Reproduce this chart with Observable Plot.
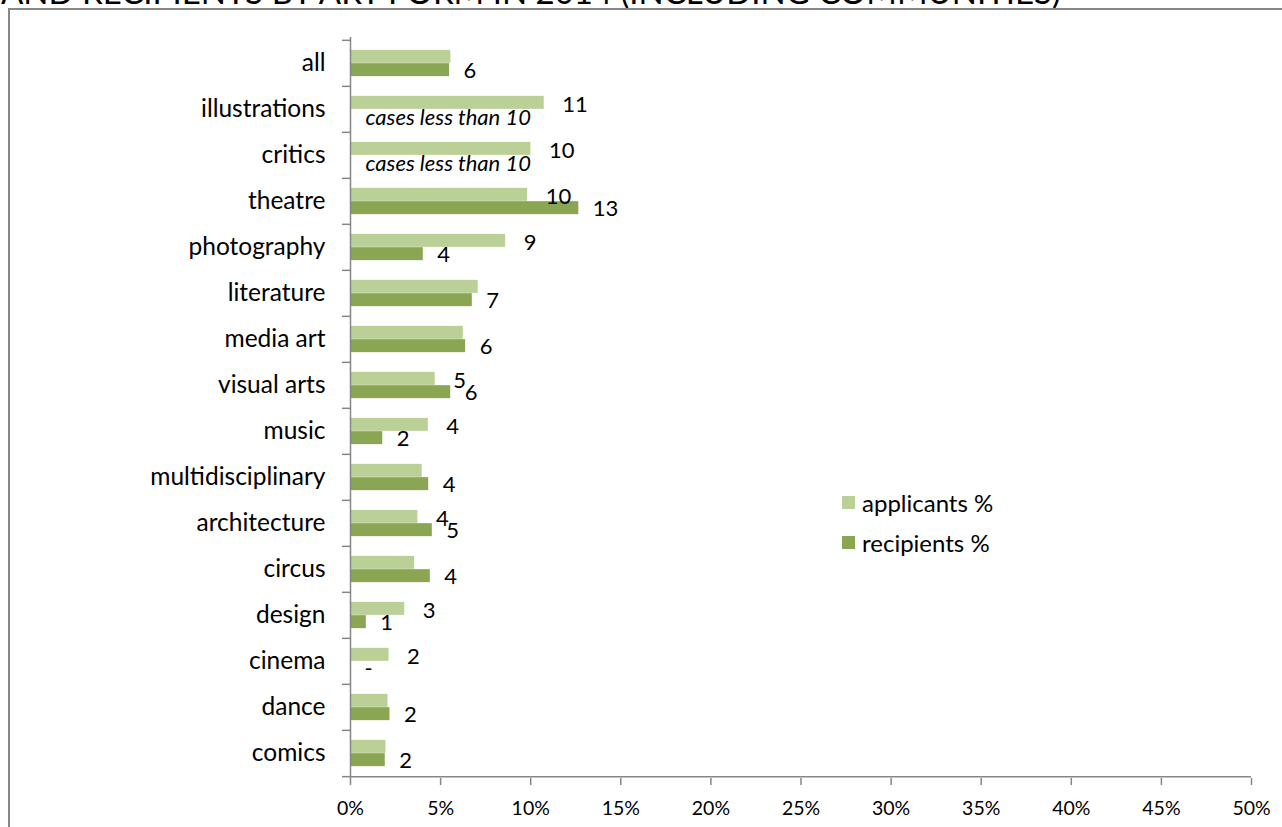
<!DOCTYPE html>
<html>
<head>
<meta charset="utf-8">
<script src="https://cdn.jsdelivr.net/npm/d3@7"></script>
<script src="https://cdn.jsdelivr.net/npm/@observablehq/plot@0.6"></script>
<style>
  html, body { margin: 0; padding: 0; background: #fff; }
  body { width: 1282px; height: 827px; overflow: hidden; position: relative; font-family: Lato, "Open Sans", sans-serif; }
  #title { position: absolute; left: 1px; top: -25px; font-size: 33px; line-height: 33px; white-space: nowrap; color: #000; }
  #chart { position: absolute; left: 0; top: 0; }
  #border { position: absolute; left: 8px; top: 8px; width: 1400px; height: 1000px; border-left: 2px solid #878787; border-top: 2px solid #878787; pointer-events: none; }
  #legend { position: absolute; left: 842px; top: 487px; font-size: 24px; color: #000; }
  #legend .item { display: flex; align-items: center; height: 30px; margin-bottom: 10px; }
  #legend .sw { width: 13px; height: 13px; margin-right: 7px; }
</style>
</head>
<body>
<div id="title">AND RECIPIENTS BY ART FORM IN 2014 (INCLUDING COMMUNITIES)</div>
<div id="chart"></div>
<div id="border"></div>
<div id="legend"></div>
<script>
const categories = ["all","illustrations","critics","theatre","photography","literature","media art","visual arts","music","multidisciplinary","architecture","circus","design","cinema","dance","comics"];
const applicants = [5.57,10.75,10.01,9.83,8.61,7.09,6.26,4.70,4.32,3.98,3.74,3.56,3.01,2.14,2.08,1.97];
const recipients = [5.50,null,null,12.67,4.04,6.76,6.39,5.56,1.79,4.34,4.54,4.43,0.88,0,2.19,1.93];
const applicantLabels = ["","11","10","10","9","","","5","4","","4","","3","2","",""];
const recipientLabels = ["6","cases less than 10","cases less than 10","13","4","7","6","6","2","4","5","4","1","-","2","2"];
const seriesNames = ["applicants %","recipients %"];
const seriesColors = ["#bbd097","#8aa652"];
const xTicks = [0,5,10,15,20,25,30,35,40,45,50];

const W = 1282, H = 827, mt = 37, mb = 49, ml = 350, mr = 31;
const step = (H - mt - mb) / categories.length;
const barH = 13.3;
const outer = (step - 2 * barH) / 2;
const gray = "#868686";

const rows = categories.map((c, i) => ({
  category: c,
  app: applicants[i],
  rec: recipients[i],
  appLabel: applicantLabels[i],
  recLabel: recipientLabels[i]
}));

const chart = Plot.plot({
  width: W, height: H,
  marginLeft: ml, marginRight: mr, marginTop: mt, marginBottom: mb,
  style: { background: "transparent", fontFamily: "Lato, 'Open Sans', sans-serif", color: "#000" },
  x: { domain: [0, 50], label: null },
  y: { domain: categories, padding: 0, label: null },
  marks: [
    Plot.barX(rows, { y: "category", x: "app", fill: seriesColors[0], insetTop: outer, insetBottom: step - outer - barH }),
    Plot.barX(rows.filter(d => d.rec != null), { y: "category", x: "rec", fill: seriesColors[1], insetTop: outer + barH, insetBottom: outer }),
    Plot.ruleX([0], { stroke: gray, strokeWidth: 1.5 }),
    Plot.ruleY([categories[categories.length - 1]], { y: d => d, dy: step / 2, stroke: gray, strokeWidth: 1.5 }),
    Plot.axisY(categories, { tickSize: 8, tickFormat: () => "", label: null, dy: -step / 2, stroke: gray, strokeWidth: 1.5 }),
    Plot.axisY([categories[categories.length - 1]], { tickSize: 8, tickFormat: () => "", label: null, dy: step / 2, stroke: gray, strokeWidth: 1.5 }),
    Plot.axisY({ tickSize: 0, tickPadding: 25, fontSize: 24.5, fill: "#000", label: null }),
    Plot.axisX({ ticks: xTicks, tickFormat: d => d + "%", tickSize: 7, tickPadding: 16, stroke: gray, strokeWidth: 1.5, fontSize: 19.5, fill: "#000", label: null }),
    Plot.text(rows.filter(d => d.appLabel), { y: "category", x: "app", text: "appLabel", textAnchor: "start", dx: 18, dy: -5, fontSize: 22, fill: "#000" }),
    Plot.text(rows.filter(d => d.recLabel && d.rec != null), { y: "category", x: "rec", text: "recLabel", textAnchor: "start", dx: 14, dy: 7,
      fontSize: 22, fill: "#000" }),
    Plot.text(rows.filter(d => d.recLabel && d.rec == null), { y: "category", x: () => 0, text: "recLabel", textAnchor: "start", dx: 15, dy: 8,
      fontSize: 22, fontStyle: "italic", fill: "#000" })
  ]
});
document.getElementById("chart").appendChild(chart);

const legend = document.getElementById("legend");
seriesNames.forEach((s, i) => {
  const item = document.createElement("div");
  item.className = "item";
  const sw = document.createElement("span");
  sw.className = "sw";
  sw.style.background = seriesColors[i];
  const t = document.createElement("span");
  t.textContent = s;
  item.appendChild(sw);
  item.appendChild(t);
  legend.appendChild(item);
});
</script>
</body>
</html>
